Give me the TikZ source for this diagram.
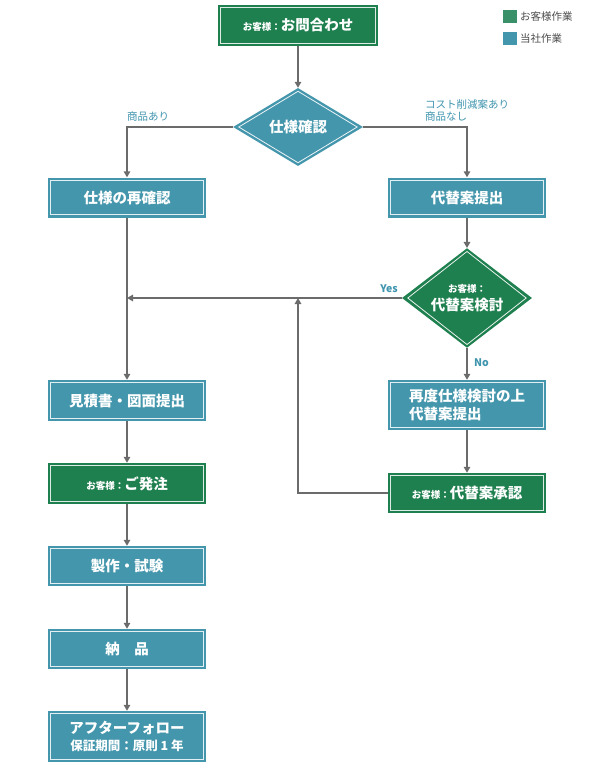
\documentclass[tikz,border=0pt]{standalone}
\usepackage{fontspec}
\setmainfont{Noto Sans CJK JP}
\usetikzlibrary{shapes.geometric,arrows.meta}
\definecolor{clientgreen}{HTML}{1E7F4F}
\definecolor{ourblue}{HTML}{4496AC}
\definecolor{legendgreen}{HTML}{3A9068}
\definecolor{labelblue}{HTML}{3F94AE}
\definecolor{linegray}{HTML}{6B6B6B}
\newcommand{\boxfont}{\fontsize{14.5}{17.5}\selectfont\bfseries}
\newcommand{\smlfont}{\fontsize{9.5}{11}\selectfont\bfseries}
\newcommand{\lblfont}{\fontsize{10.5}{12.5}\selectfont}
% inset white frame of a box
\newcommand{\insetbox}[1]{\draw[white,line width=0.8pt,opacity=0.85]
  ([shift={(3,3)}]#1.north west) rectangle ([shift={(-3,-3)}]#1.south east);}
\newcommand{\insetdia}[1]{\draw[white,line width=0.8pt,opacity=0.9]
  ([yshift=-3.5pt]#1.north) -- ([xshift=-6pt]#1.east) -- ([yshift=3.5pt]#1.south)
  -- ([xshift=6pt]#1.west) -- cycle;}
\tikzset{
  box/.style={rectangle,minimum width=158pt,minimum height=40pt,inner sep=0pt,
    text=white,font=\boxfont,align=center},
  usbox/.style={box,fill=ourblue},
  clientbox/.style={box,fill=clientgreen},
  dia/.style={diamond,minimum width=130pt,minimum height=78pt,inner sep=0pt,
    text=white,font=\boxfont,align=center},
  flow/.style={draw=linegray,line width=1.4pt,-{Triangle[width=6.5pt,length=6pt]}},
  tag/.style={text=labelblue,font=\lblfont,inner sep=0pt,align=left}
}
\begin{document}
\begin{tikzpicture}[x=1pt,y=-1pt]
\useasboundingbox (0,0) rectangle (595,784);

% legend
\fill[legendgreen] (503,10) rectangle (517,23);
\node[anchor=west,text=black!70,font=\lblfont,inner sep=0pt] (lgclient) at (520,16.5) {お客様作業};
\fill[ourblue] (503,32) rectangle (517,45);
\node[anchor=west,text=black!70,font=\lblfont,inner sep=0pt] (lgus) at (520,38.5) {当社作業};

% boxes
\node[clientbox,minimum width=160pt,minimum height=41pt] (ask) at (298,25.5) {{\smlfont お客様：}お問合わせ};
\node[dia,fill=ourblue] (check) at (298,127) {仕様確認};
\node[usbox] (recheck) at (127,197.5) {仕様の再確認};
\node[usbox] (alt) at (467,197.5) {代替案提出};
\node[dia,fill=clientgreen] (check2) at (467,298) {{\smlfont お客様：}\\代替案検討};
\node[usbox,minimum height=41pt] (quote) at (127,400.5) {見積書・図面提出};
\node[usbox,minimum height=50pt,align=left] (redo) at (467,405) {再度仕様検討の上\\代替案提出};
\node[clientbox] (approve) at (467,493) {{\smlfont お客様：}代替案承認};
\node[clientbox,minimum height=41pt] (order) at (127,483.5) {{\smlfont お客様：}ご発注};
\node[usbox] (make) at (127,566) {製作・試験};
\node[usbox] (deliver) at (127,649) {納　品};
\node[usbox,minimum height=51pt] (follow) at (127,736.5) {アフターフォロー\\{\fontsize{12.5}{15}\selectfont\bfseries 保証期間：原則 1 年}};

\foreach \n in {ask,recheck,alt,quote,redo,approve,order,make,deliver,follow}
  {\insetbox{\n}}
\insetdia{check}
\insetdia{check2}

% connectors
\coordinate (yesend) at (recheck.south |- check2.west);
\coordinate (merge) at (ask.south |- check2.west);
\draw[flow] (ask) -- (check);
\draw[flow] (check.west) -| (recheck.north);
\draw[flow] (check.east) -| (alt.north);
\draw[flow] (alt) -- (check2);
\draw[flow] (check2.west) -- (yesend);
\draw[flow] (recheck) -- (quote);
\draw[flow] (check2) -- (redo);
\draw[flow] (redo) -- (approve);
\draw[flow] (approve.west) -| (merge);
\draw[flow] (quote) -- (order);
\draw[flow] (order) -- (make);
\draw[flow] (make) -- (deliver);
\draw[flow] (deliver) -- (follow);

% labels
\node[tag,anchor=south west] (has) at (127,122) {商品あり};
\node[tag,anchor=south west] (cut) at (425,122) {コスト削減案あり\\商品なし};
\node[tag,anchor=south east,font=\lblfont\bfseries] (yes) at (398,293) {Yes};
\node[tag,anchor=north west,font=\lblfont\bfseries] (no) at (474,358) {No};
\end{tikzpicture}
\end{document}
